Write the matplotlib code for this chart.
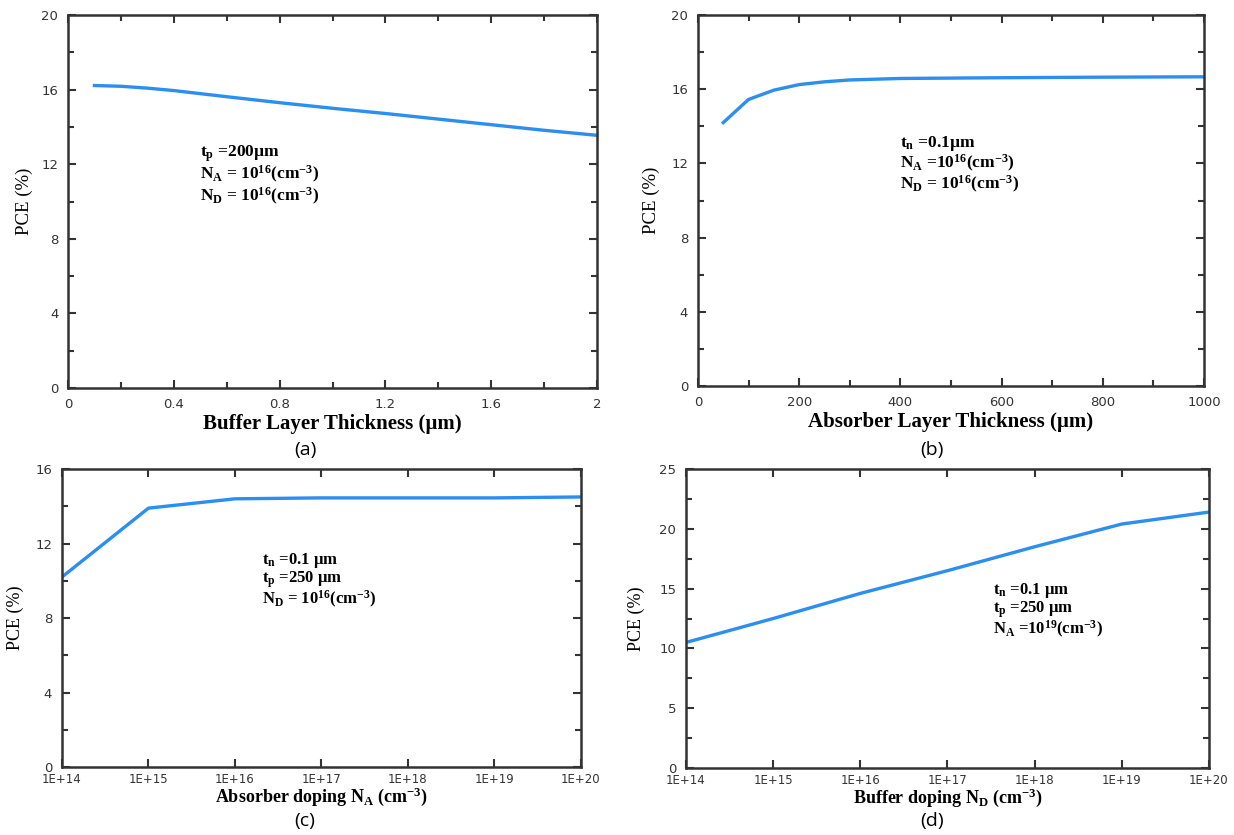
import matplotlib
matplotlib.use("Agg")
import matplotlib.pyplot as plt
from matplotlib.ticker import MultipleLocator, FixedLocator, NullLocator, FuncFormatter

plt.rcParams['mathtext.fontset'] = 'custom'
plt.rcParams['mathtext.rm'] = 'Liberation Serif:bold'
plt.rcParams['mathtext.it'] = 'Liberation Serif:bold'
plt.rcParams['mathtext.bf'] = 'Liberation Serif:bold'

# ---- data ----
a_x = [0.1, 0.2, 0.3, 0.4, 0.6, 0.8, 1.0, 1.2, 1.4, 1.6, 1.8, 2.0]
a_y = [16.22, 16.18, 16.08, 15.95, 15.62, 15.30, 15.00, 14.72, 14.42, 14.12, 13.82, 13.55]

b_x = [50, 100, 150, 200, 250, 300, 400, 500, 600, 800, 1000]
b_y = [14.2, 15.45, 15.95, 16.25, 16.4, 16.5, 16.58, 16.6, 16.62, 16.65, 16.67]

c_x = [1e14, 1e15, 1e16, 1e17, 1e18, 1e19, 1e20]
c_y = [10.2, 13.9, 14.4, 14.45, 14.45, 14.45, 14.5]

d_x = [1e14, 1e15, 1e16, 1e17, 1e18, 1e19, 1e20]
d_y = [10.5, 12.5, 14.6, 16.5, 18.5, 20.4, 21.4]

log_ticks = [1e14, 1e15, 1e16, 1e17, 1e18, 1e19, 1e20]
log_labels = ['1E+14', '1E+15', '1E+16', '1E+17', '1E+18', '1E+19', '1E+20']

line_color = '#2b8ef0'
spine_color = '#333333'

fig = plt.figure(figsize=(12.34, 8.35), dpi=100)

def style(ax):
    for s in ax.spines.values():
        s.set_color(spine_color)
        s.set_linewidth(1.8)
    ax.tick_params(which='both', direction='in', top=True, right=True,
                   color=spine_color, width=1.5, labelsize=9.5,
                   labelcolor='#333333', pad=7)
    ax.tick_params(which='major', length=6)
    ax.tick_params(which='minor', length=4)
    for lab in ax.get_xticklabels() + ax.get_yticklabels():
        lab.set_family('DejaVu Sans')

serif = 'Liberation Serif'
gfmt = FuncFormatter(lambda v, p: f'{v:g}')

# (a)
ax = fig.add_axes([0.0551, 0.5353, 0.4287, 0.4467])
ax.plot(a_x, a_y, color=line_color, lw=2.4)
ax.set_xlim(0, 2); ax.set_ylim(0, 20)
ax.xaxis.set_major_locator(MultipleLocator(0.4))
ax.xaxis.set_minor_locator(MultipleLocator(0.2))
ax.xaxis.set_major_formatter(gfmt)
ax.yaxis.set_major_locator(MultipleLocator(4))
ax.yaxis.set_minor_locator(MultipleLocator(2))
style(ax)
ax.set_xlabel('Buffer Layer Thickness (µm)', family=serif, fontweight='bold', fontsize=15, labelpad=2)
ax.set_ylabel('PCE (%)', family=serif, fontsize=13.5, labelpad=6)
ax.text(0.25, 0.655, 't$_p$ =200µm\nN$_A$ = 10$^{16}$(cm$^{-3}$)\nN$_D$ = 10$^{16}$(cm$^{-3}$)',
        transform=ax.transAxes, family=serif, fontweight='bold', fontsize=12.5,
        va='top', ha='left', linespacing=1.0)
fig.text(305/1234, 1 - 450/835, '(a)', ha='center', va='center', fontsize=14, family='Open Sans')

# (b)
ax = fig.add_axes([0.5656, 0.5377, 0.4100, 0.4443])
ax.plot(b_x, b_y, color=line_color, lw=2.4)
ax.set_xlim(0, 1000); ax.set_ylim(0, 20)
ax.xaxis.set_major_locator(MultipleLocator(200))
ax.xaxis.set_minor_locator(MultipleLocator(100))
ax.yaxis.set_major_locator(MultipleLocator(4))
ax.yaxis.set_minor_locator(MultipleLocator(2))
style(ax)
ax.set_xlabel('Absorber Layer Thickness (µm)', family=serif, fontweight='bold', fontsize=15, labelpad=2)
ax.set_ylabel('PCE (%)', family=serif, fontsize=13.5, labelpad=8)
ax.text(0.40, 0.68, 't$_n$ =0.1µm\nN$_A$ =10$^{16}$(cm$^{-3}$)\nN$_D$ = 10$^{16}$(cm$^{-3}$)',
        transform=ax.transAxes, family=serif, fontweight='bold', fontsize=12.5,
        va='top', ha='left', linespacing=1.0)
fig.text(932/1234, 1 - 450/835, '(b)', ha='center', va='center', fontsize=14, family='Open Sans')

# (c)
ax = fig.add_axes([0.0502, 0.0814, 0.4206, 0.3569])
ax.plot(c_x, c_y, color=line_color, lw=2.4)
ax.set_xscale('log')
ax.set_xlim(1e14, 1e20); ax.set_ylim(0, 16)
ax.xaxis.set_major_locator(FixedLocator(log_ticks))
ax.xaxis.set_minor_locator(NullLocator())
ax.set_xticklabels(log_labels)
ax.yaxis.set_major_locator(MultipleLocator(4))
ax.yaxis.set_minor_locator(MultipleLocator(2))
style(ax)
ax.tick_params(axis='x', labelsize=8.5, pad=4)
ax.set_xlabel('Absorber doping N$_A$ (cm$^{-3}$)', family=serif, fontweight='bold', fontsize=13, labelpad=0)
ax.set_ylabel('PCE (%)', family=serif, fontsize=13, labelpad=8)
ax.text(0.385, 0.725, 't$_n$ =0.1 µm\nt$_p$ =250 µm\nN$_D$ = 10$^{16}$(cm$^{-3}$)',
        transform=ax.transAxes, family=serif, fontweight='bold', fontsize=12,
        va='top', ha='left', linespacing=0.95)
fig.text(305/1234, 1 - 821/835, '(c)', ha='center', va='center', fontsize=14, family='Open Sans')

# (d)
ax = fig.add_axes([0.5559, 0.0802, 0.4238, 0.3581])
ax.plot(d_x, d_y, color=line_color, lw=2.4)
ax.set_xscale('log')
ax.set_xlim(1e14, 1e20); ax.set_ylim(0, 25)
ax.xaxis.set_major_locator(FixedLocator(log_ticks))
ax.xaxis.set_minor_locator(NullLocator())
ax.set_xticklabels(log_labels)
ax.yaxis.set_major_locator(MultipleLocator(5))
ax.yaxis.set_minor_locator(MultipleLocator(2.5))
style(ax)
ax.tick_params(axis='x', labelsize=8.5, pad=4)
ax.set_xlabel('Buffer doping N$_D$ (cm$^{-3}$)', family=serif, fontweight='bold', fontsize=13, labelpad=0)
ax.set_ylabel('PCE (%)', family=serif, fontsize=13, labelpad=10)
ax.text(0.587, 0.625, 't$_n$ =0.1 µm\nt$_p$ =250 µm\nN$_A$ =10$^{19}$(cm$^{-3}$)',
        transform=ax.transAxes, family=serif, fontweight='bold', fontsize=12,
        va='top', ha='left', linespacing=0.95)
fig.text(932/1234, 1 - 821/835, '(d)', ha='center', va='center', fontsize=14, family='Open Sans')

fig.savefig('out.png', dpi=100)
